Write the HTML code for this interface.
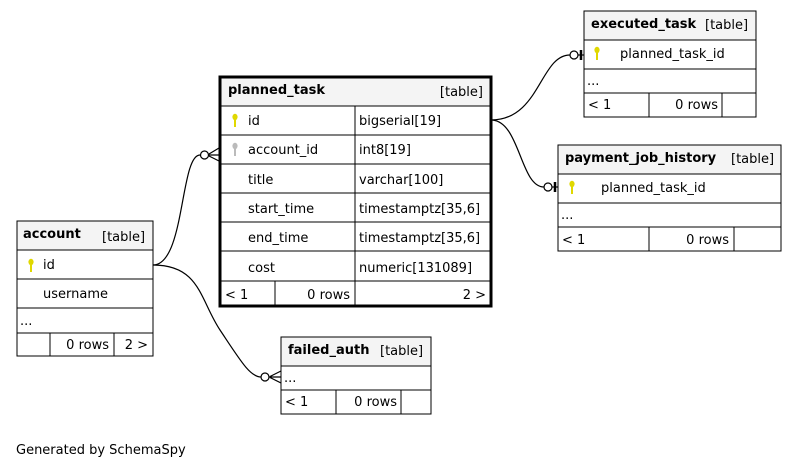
<!DOCTYPE html>
<html><head><meta charset="utf-8"><style>
html,body{margin:0;padding:0;background:#fff;}
svg{display:block;}
text{font-family:"DejaVu Sans","Liberation Sans",sans-serif;font-size:13px;fill:#000;}
.b{font-weight:bold;}
</style></head><body>
<svg width="799" height="469" viewBox="0 0 799 469" xmlns="http://www.w3.org/2000/svg">
<defs>
<g id="key"><ellipse cx="0" cy="0" rx="2.6" ry="3.2"/><rect x="-1" y="0" width="2" height="10"/></g>
</defs>
<g fill="none" stroke="#000" stroke-width="1.2">
<!-- account -> planned_task -->
<path d="M153,265 C185,265 180,155 200,155"/>
<circle cx="204.5" cy="155" r="4" fill="#fff"/>
<path d="M208.5,155 L219,155 M209,154 L219,148 M209,156 L219,161"/>
<!-- account -> failed_auth -->
<path d="M153,265 C200,265 200,300 220,330 C240,360 250,377 261,377"/>
<circle cx="265" cy="377" r="4" fill="#fff"/>
<path d="M269,377 L281,377 M270,376.5 L281,371 M270,377.5 L281,383"/>
<!-- planned_task -> executed_task -->
<path d="M491,120 C540,120 540,55 570,55"/>
<circle cx="574" cy="55" r="4" fill="#fff"/>
<path d="M578,55 L584,55"/>
<path d="M581,50 L581,60" stroke-width="2.5"/>
<!-- planned_task -> payment_job_history -->
<path d="M491,120 C520,120 520,187 544,187"/>
<circle cx="548" cy="187" r="4" fill="#fff"/>
<path d="M552,187 L558,187"/>
<path d="M555,182 L555,192" stroke-width="2.5"/>
</g>

<!-- account -->
<g>
<rect x="17" y="221" width="136" height="29" fill="#f4f4f4" stroke="#000"/>
<rect x="17" y="250" width="136" height="106" fill="#fff" stroke="#000"/>
<g stroke="#000"><line x1="17" y1="279" x2="153" y2="279"/><line x1="17" y1="308" x2="153" y2="308"/><line x1="17" y1="333" x2="153" y2="333"/><line x1="50" y1="333" x2="50" y2="356"/><line x1="114" y1="333" x2="114" y2="356"/></g>
<text x="23" y="238" class="b">account</text><text x="102" y="241">[table]</text>
<use href="#key" x="31" y="262" fill="#e0d800"/>
<text x="43" y="269">id</text>
<text x="43" y="298">username</text>
<text x="20" y="325">...</text>
<text x="109" y="349" text-anchor="end">0 rows</text>
<text x="148" y="349" text-anchor="end">2 &gt;</text>
</g>

<!-- planned_task -->
<g>
<rect x="220" y="77" width="271" height="29" fill="#f4f4f4"/>
<g stroke="#000" stroke-width="1"><line x1="220" y1="106" x2="491" y2="106"/><line x1="220" y1="135" x2="491" y2="135"/><line x1="220" y1="164" x2="491" y2="164"/><line x1="220" y1="193" x2="491" y2="193"/><line x1="220" y1="222" x2="491" y2="222"/><line x1="220" y1="251" x2="491" y2="251"/><line x1="220" y1="281" x2="491" y2="281"/><line x1="355" y1="106" x2="355" y2="306"/><line x1="275" y1="281" x2="275" y2="306"/></g>
<rect x="220" y="77" width="271" height="229" fill="none" stroke="#000" stroke-width="3"/>
<text x="228" y="94" class="b">planned_task</text><text x="483" y="96" text-anchor="end">[table]</text>
<use href="#key" x="235" y="117" fill="#e0d800"/>
<use href="#key" x="235" y="146" fill="#bbb"/>
<text x="248" y="125">id</text><text x="359" y="125">bigserial[19]</text>
<text x="248" y="154">account_id</text><text x="359" y="154">int8[19]</text>
<text x="248" y="184">title</text><text x="359" y="184">varchar[100]</text>
<text x="248" y="213">start_time</text><text x="359" y="213">timestamptz[35,6]</text>
<text x="248" y="242">end_time</text><text x="359" y="242">timestamptz[35,6]</text>
<text x="248" y="272">cost</text><text x="359" y="272">numeric[131089]</text>
<text x="225" y="299">&lt; 1</text><text x="350" y="299" text-anchor="end">0 rows</text><text x="486" y="299" text-anchor="end">2 &gt;</text>
</g>

<!-- executed_task -->
<g>
<rect x="584" y="11" width="172" height="29" fill="#f4f4f4" stroke="#000"/>
<rect x="584" y="40" width="172" height="77" fill="#fff" stroke="#000"/>
<g stroke="#000"><line x1="584" y1="69" x2="756" y2="69"/><line x1="584" y1="93" x2="756" y2="93"/><line x1="649" y1="93" x2="649" y2="117"/><line x1="722" y1="93" x2="722" y2="117"/></g>
<text x="591" y="28" class="b">executed_task</text><text x="705" y="29">[table]</text>
<use href="#key" x="597" y="50" fill="#e0d800"/>
<text x="620" y="58">planned_task_id</text>
<text x="587" y="85">...</text>
<text x="588" y="109">&lt; 1</text><text x="718" y="109" text-anchor="end">0 rows</text>
</g>

<!-- payment_job_history -->
<g>
<rect x="558" y="145" width="223" height="29" fill="#f4f4f4" stroke="#000"/>
<rect x="558" y="174" width="223" height="77" fill="#fff" stroke="#000"/>
<g stroke="#000"><line x1="558" y1="203" x2="781" y2="203"/><line x1="558" y1="227" x2="781" y2="227"/><line x1="649" y1="227" x2="649" y2="251"/><line x1="734" y1="227" x2="734" y2="251"/></g>
<text x="565" y="162" class="b">payment_job_history</text><text x="731" y="163">[table]</text>
<use href="#key" x="572" y="184" fill="#e0d800"/>
<text x="601" y="192">planned_task_id</text>
<text x="561" y="219">...</text>
<text x="562" y="244">&lt; 1</text><text x="729" y="244" text-anchor="end">0 rows</text>
</g>

<!-- failed_auth -->
<g>
<rect x="281" y="337" width="150" height="29" fill="#f4f4f4" stroke="#000"/>
<rect x="281" y="366" width="150" height="48" fill="#fff" stroke="#000"/>
<g stroke="#000"><line x1="281" y1="390" x2="431" y2="390"/><line x1="336" y1="390" x2="336" y2="414"/><line x1="401" y1="390" x2="401" y2="414"/></g>
<text x="288" y="354" class="b">failed_auth</text><text x="380" y="355">[table]</text>
<text x="284" y="382">...</text>
<text x="285" y="406">&lt; 1</text><text x="397" y="406" text-anchor="end">0 rows</text>
</g>

<text x="16" y="454">Generated by SchemaSpy</text>
</svg>
</body></html>
